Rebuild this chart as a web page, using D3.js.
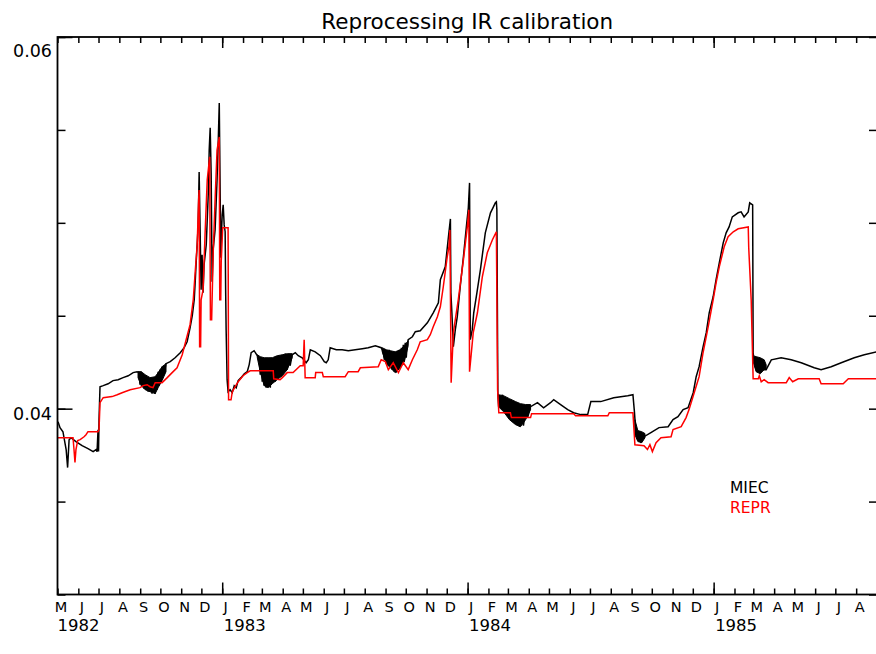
<!DOCTYPE html>
<html>
<head>
<meta charset="utf-8">
<title>Reprocessing IR calibration</title>
<script src="https://cdn.jsdelivr.net/npm/d3@7"></script>
<style>
  body { margin: 0; background: #fff; }
  svg { display: block; }
</style>
</head>
<body>
<div id="chart"></div>
<script>
// MIEC calibration (black), decimal year / value
const miecTime = [
  1982.331, 1982.339, 1982.351, 1982.364, 1982.370, 1982.376, 1982.384, 1982.404, 1982.429, 1982.453,
  1982.474, 1982.486, 1982.490, 1982.494, 1982.496, 1982.498, 1982.502, 1982.515, 1982.535, 1982.555,
  1982.576, 1982.596, 1982.617, 1982.637, 1982.653, 1982.661, 1982.665, 1982.670, 1982.674, 1982.678,
  1982.682, 1982.686, 1982.690, 1982.694, 1982.698, 1982.702, 1982.706, 1982.710, 1982.714, 1982.718,
  1982.727, 1982.731, 1982.735, 1982.739, 1982.743, 1982.747, 1982.751, 1982.755, 1982.763, 1982.771,
  1982.788, 1982.808, 1982.829, 1982.845, 1982.857, 1982.869, 1982.878, 1982.886, 1982.890, 1982.894,
  1982.898, 1982.902, 1982.906, 1982.910, 1982.914, 1982.918, 1982.922, 1982.926, 1982.935, 1982.943,
  1982.947, 1982.951, 1982.955, 1982.959, 1982.963, 1982.971, 1982.979, 1982.984, 1982.988, 1982.992,
  1982.994, 1982.996, 1983.000, 1983.004, 1983.008, 1983.012, 1983.014, 1983.016, 1983.020, 1983.024,
  1983.032, 1983.041, 1983.049, 1983.057, 1983.065, 1983.077, 1983.090, 1983.102, 1983.110, 1983.118,
  1983.130, 1983.143, 1983.151, 1983.155, 1983.159, 1983.163, 1983.167, 1983.171, 1983.175, 1983.179,
  1983.183, 1983.187, 1983.192, 1983.196, 1983.200, 1983.204, 1983.208, 1983.216, 1983.220, 1983.228,
  1983.232, 1983.240, 1983.245, 1983.253, 1983.257, 1983.265, 1983.269, 1983.277, 1983.285, 1983.298,
  1983.310, 1983.326, 1983.342, 1983.351, 1983.359, 1983.379, 1983.400, 1983.416, 1983.424, 1983.432,
  1983.440, 1983.465, 1983.489, 1983.514, 1983.542, 1983.571, 1983.595, 1983.624, 1983.648, 1983.656,
  1983.661, 1983.665, 1983.669, 1983.673, 1983.677, 1983.681, 1983.685, 1983.689, 1983.693, 1983.697,
  1983.701, 1983.705, 1983.709, 1983.714, 1983.718, 1983.722, 1983.726, 1983.730, 1983.734, 1983.738,
  1983.742, 1983.746, 1983.750, 1983.754, 1983.758, 1983.775, 1983.787, 1983.807, 1983.836, 1983.860,
  1983.881, 1983.889, 1983.909, 1983.922, 1983.930, 1983.932, 1983.936, 1983.942, 1983.950, 1983.958,
  1983.970, 1983.983, 1983.995, 1984.003, 1984.008, 1984.011, 1984.019, 1984.025, 1984.038, 1984.052,
  1984.072, 1984.093, 1984.105, 1984.113, 1984.117, 1984.119, 1984.121, 1984.123, 1984.127, 1984.134,
  1984.142, 1984.146, 1984.154, 1984.162, 1984.170, 1984.178, 1984.187, 1984.195, 1984.203, 1984.211,
  1984.219, 1984.227, 1984.236, 1984.244, 1984.256, 1984.284, 1984.309, 1984.337, 1984.350, 1984.378,
  1984.407, 1984.431, 1984.460, 1984.488, 1984.501, 1984.541, 1984.594, 1984.651, 1984.672, 1984.678,
  1984.684, 1984.692, 1984.696, 1984.704, 1984.717, 1984.745, 1984.778, 1984.815, 1984.835, 1984.855,
  1984.876, 1984.896, 1984.917, 1984.929, 1984.941, 1984.957, 1984.970, 1984.982, 1984.998, 1985.010,
  1985.023, 1985.039, 1985.051, 1985.063, 1985.076, 1985.100, 1985.112, 1985.124, 1985.141, 1985.147,
  1985.159, 1985.161, 1985.165, 1985.173, 1985.178, 1985.182, 1985.186, 1985.190, 1985.198, 1985.206,
  1985.214, 1985.235, 1985.275, 1985.316, 1985.357, 1985.410, 1985.438, 1985.479, 1985.520, 1985.573,
  1985.614, 1985.667
];
const miecValue = [
  0.03930, 0.03898, 0.03876, 0.03780, 0.03683, 0.03833, 0.03844, 0.03823, 0.03801, 0.03785,
  0.03769, 0.03780, 0.03769, 0.03887, 0.03769, 0.03941, 0.04118, 0.04124, 0.04134, 0.04151,
  0.04156, 0.04167, 0.04177, 0.04194, 0.04199, 0.04194, 0.04129, 0.04199, 0.04118, 0.04183,
  0.04108, 0.04177, 0.04102, 0.04167, 0.04091, 0.04161, 0.04097, 0.04167, 0.04081, 0.04167,
  0.04081, 0.04177, 0.04102, 0.04199, 0.04124, 0.04210, 0.04145, 0.04226, 0.04183, 0.04242,
  0.04253, 0.04274, 0.04301, 0.04328, 0.04360, 0.04435, 0.04500, 0.04586, 0.04683, 0.04790,
  0.04882, 0.04989, 0.05274, 0.04962, 0.04640, 0.04828, 0.04624, 0.04774, 0.04882, 0.05150,
  0.05392, 0.05511, 0.05258, 0.04683, 0.04855, 0.04962, 0.05231, 0.05446, 0.05645, 0.05124,
  0.04812, 0.04909, 0.05043, 0.05097, 0.04989, 0.04952, 0.04640, 0.04425, 0.04156, 0.04091,
  0.04102, 0.04086, 0.04124, 0.04113, 0.04151, 0.04167, 0.04188, 0.04199, 0.04237, 0.04301,
  0.04312, 0.04285, 0.04263, 0.04183, 0.04274, 0.04145, 0.04263, 0.04124, 0.04253, 0.04113,
  0.04263, 0.04129, 0.04253, 0.04113, 0.04274, 0.04156, 0.04263, 0.04145, 0.04280, 0.04167,
  0.04285, 0.04177, 0.04290, 0.04199, 0.04296, 0.04210, 0.04285, 0.04231, 0.04290, 0.04301,
  0.04285, 0.04274, 0.04247, 0.04263, 0.04317, 0.04306, 0.04285, 0.04253, 0.04247, 0.04263,
  0.04328, 0.04317, 0.04317, 0.04312, 0.04317, 0.04323, 0.04328, 0.04339, 0.04328, 0.04306,
  0.04263, 0.04317, 0.04242, 0.04306, 0.04231, 0.04317, 0.04220, 0.04301, 0.04210, 0.04306,
  0.04199, 0.04290, 0.04194, 0.04306, 0.04210, 0.04317, 0.04220, 0.04328, 0.04237, 0.04344,
  0.04253, 0.04355, 0.04274, 0.04344, 0.04371, 0.04387, 0.04414, 0.04419, 0.04462, 0.04516,
  0.04570, 0.04694, 0.04763, 0.04925, 0.05021, 0.04624, 0.04516, 0.04333, 0.04425, 0.04495,
  0.04656, 0.04817, 0.04978, 0.05081, 0.05215, 0.04371, 0.04425, 0.04516, 0.04624, 0.04747,
  0.04946, 0.05054, 0.05086, 0.05108, 0.05113, 0.05070, 0.04570, 0.04086, 0.04011, 0.04022,
  0.04075, 0.03995, 0.04059, 0.03968, 0.04048, 0.03941, 0.04022, 0.03919, 0.04005, 0.03903,
  0.03984, 0.03909, 0.03995, 0.03952, 0.04011, 0.04032, 0.04005, 0.04032, 0.04048, 0.04022,
  0.03995, 0.03978, 0.03968, 0.03968, 0.04038, 0.04038, 0.04059, 0.04070, 0.04075, 0.03984,
  0.03871, 0.03833, 0.03871, 0.03823, 0.03849, 0.03871, 0.03898, 0.03903, 0.03941, 0.03957,
  0.03995, 0.04005, 0.04086, 0.04172, 0.04226, 0.04333, 0.04409, 0.04516, 0.04602, 0.04694,
  0.04785, 0.04892, 0.04946, 0.04978, 0.05032, 0.05054, 0.05059, 0.05032, 0.05059, 0.05108,
  0.05097, 0.04301, 0.04253, 0.04210, 0.04274, 0.04199, 0.04263, 0.04194, 0.04253, 0.04210,
  0.04210, 0.04263, 0.04274, 0.04263, 0.04247, 0.04220, 0.04210, 0.04226, 0.04247, 0.04274,
  0.04290, 0.04306
];

// MIEC day-to-day scatter band (upper / lower envelope), null = gap
const noiseTime = [
  1982.657, 1982.670, 1982.686, 1982.706, 1982.727, 1982.739, 1982.755, 1982.771, null,
  1983.143, 1983.155, 1983.171, 1983.187, 1983.204, 1983.224, 1983.245, 1983.265, 1983.285, null,
  1983.652, 1983.669, 1983.685, 1983.705, 1983.726, 1983.742, 1983.758, null,
  1984.125, 1984.146, 1984.170, 1984.195, 1984.215, 1984.236, 1984.256, null,
  1984.680, 1984.692, 1984.708, 1984.721, null,
  1985.161, 1985.173, 1985.190, 1985.206, 1985.214
];
const noiseHigh = [
  0.04199, 0.04199, 0.04183, 0.04167, 0.04172, 0.04194, 0.04226, 0.04242, null,
  0.04290, 0.04280, 0.04274, 0.04274, 0.04274, 0.04285, 0.04290, 0.04296, 0.04296, null,
  0.04328, 0.04317, 0.04312, 0.04306, 0.04317, 0.04339, 0.04366, null,
  0.04075, 0.04070, 0.04054, 0.04038, 0.04027, 0.04022, 0.04022, null,
  0.03941, 0.03882, 0.03876, 0.03866, null,
  0.04285, 0.04280, 0.04274, 0.04263, 0.04237
];
const noiseLow = [
  0.04167, 0.04124, 0.04102, 0.04091, 0.04081, 0.04113, 0.04151, 0.04199, null,
  0.04274, 0.04199, 0.04124, 0.04113, 0.04134, 0.04156, 0.04177, 0.04210, 0.04274, null,
  0.04306, 0.04242, 0.04220, 0.04194, 0.04220, 0.04253, 0.04339, null,
  0.04011, 0.03984, 0.03941, 0.03914, 0.03903, 0.03941, 0.03995, null,
  0.03860, 0.03823, 0.03817, 0.03844, null,
  0.04253, 0.04199, 0.04188, 0.04210, 0.04215
];

// REPR calibration (red), decimal year / value
const reprTime = [
  1982.329, 1982.392, 1982.396, 1982.400, 1982.404, 1982.411, 1982.421, 1982.437, 1982.445, 1982.453,
  1982.494, 1982.498, 1982.502, 1982.515, 1982.551, 1982.572, 1982.592, 1982.625, 1982.665, 1982.678,
  1982.694, 1982.706, 1982.718, 1982.727, 1982.755, 1982.776, 1982.796, 1982.816, 1982.837, 1982.853,
  1982.869, 1982.882, 1982.890, 1982.898, 1982.904, 1982.906, 1982.908, 1982.912, 1982.914, 1982.922,
  1982.930, 1982.939, 1982.949, 1982.952, 1982.957, 1982.963, 1982.971, 1982.979, 1982.988, 1982.990,
  1982.994, 1982.996, 1983.002, 1983.024, 1983.026, 1983.036, 1983.041, 1983.053, 1983.065, 1983.085,
  1983.102, 1983.114, 1983.208, 1983.210, 1983.236, 1983.245, 1983.265, 1983.289, 1983.318, 1983.330,
  1983.334, 1983.338, 1983.379, 1983.381, 1983.408, 1983.412, 1983.501, 1983.514, 1983.554, 1983.563,
  1983.636, 1983.648, 1983.665, 1983.677, 1983.697, 1983.718, 1983.738, 1983.758, 1983.775, 1983.795,
  1983.807, 1983.836, 1983.848, 1983.860, 1983.877, 1983.889, 1983.901, 1983.917, 1983.924, 1983.928,
  1983.933, 1983.942, 1983.962, 1983.983, 1983.999, 1984.005, 1984.008, 1984.023, 1984.040, 1984.060,
  1984.080, 1984.101, 1984.117, 1984.122, 1984.127, 1984.174, 1984.178, 1984.256, 1984.260, 1984.431,
  1984.439, 1984.570, 1984.576, 1984.672, 1984.680, 1984.717, 1984.731, 1984.741, 1984.751, 1984.766,
  1984.786, 1984.827, 1984.835, 1984.868, 1984.888, 1984.900, 1984.921, 1984.941, 1984.957, 1984.978,
  1984.998, 1985.010, 1985.023, 1985.043, 1985.059, 1985.080, 1985.100, 1985.141, 1985.143, 1985.153,
  1985.161, 1985.182, 1985.186, 1985.194, 1985.206, 1985.222, 1985.296, 1985.308, 1985.322, 1985.345,
  1985.430, 1985.438, 1985.528, 1985.549, 1985.667
];
const reprValue = [
  0.03844, 0.03844, 0.03780, 0.03710, 0.03780, 0.03828, 0.03833, 0.03849, 0.03860, 0.03876,
  0.03876, 0.03887, 0.04032, 0.04059, 0.04065, 0.04075, 0.04086, 0.04102, 0.04113, 0.04124,
  0.04129, 0.04118, 0.04113, 0.04140, 0.04140, 0.04167, 0.04194, 0.04220, 0.04290, 0.04371,
  0.04452, 0.04586, 0.04737, 0.04882, 0.05124, 0.05177, 0.04333, 0.04333, 0.04586, 0.04640,
  0.04935, 0.05231, 0.05355, 0.04478, 0.04478, 0.04828, 0.05124, 0.05392, 0.05462, 0.04586,
  0.04586, 0.04790, 0.04973, 0.04973, 0.04048, 0.04048, 0.04091, 0.04118, 0.04145, 0.04177,
  0.04194, 0.04204, 0.04204, 0.04161, 0.04156, 0.04167, 0.04194, 0.04194, 0.04231, 0.04231,
  0.04371, 0.04167, 0.04167, 0.04194, 0.04194, 0.04172, 0.04172, 0.04199, 0.04199, 0.04220,
  0.04226, 0.04263, 0.04253, 0.04210, 0.04247, 0.04194, 0.04247, 0.04210, 0.04263, 0.04317,
  0.04360, 0.04371, 0.04398, 0.04441, 0.04495, 0.04548, 0.04656, 0.04817, 0.04871, 0.04962,
  0.04140, 0.04409, 0.04586, 0.04801, 0.04978, 0.05070, 0.04199, 0.04409, 0.04516, 0.04710,
  0.04839, 0.04909, 0.04952, 0.04102, 0.03978, 0.03978, 0.03952, 0.03952, 0.03973, 0.03973,
  0.03962, 0.03962, 0.03978, 0.03978, 0.03806, 0.03801, 0.03780, 0.03806, 0.03769, 0.03817,
  0.03844, 0.03849, 0.03887, 0.03903, 0.03952, 0.03995, 0.04086, 0.04172, 0.04301, 0.04441,
  0.04586, 0.04677, 0.04763, 0.04871, 0.04925, 0.04952, 0.04968, 0.04978, 0.04866, 0.04586,
  0.04161, 0.04161, 0.04177, 0.04145, 0.04156, 0.04140, 0.04140, 0.04167, 0.04145, 0.04161,
  0.04161, 0.04134, 0.04134, 0.04161, 0.04161
];

// axis labels
const monthLetters = ['J', 'F', 'M', 'A', 'M', 'J', 'J', 'A', 'S', 'O', 'N', 'D'];
const yearLabels = [1982, 1983, 1984, 1985];
const yLabelValues = [0.04, 0.06];
const seriesNames = ['MIEC', 'REPR'];
const seriesColors = ['#000000', '#ff0000'];

const width = 876;
const height = 654;
const margin = { top: 37, right: -1, bottom: 59.5, left: 57.5 };
const fontFamily = '"DejaVu Sans", sans-serif';

// decimal year -> Date (UTC)
function decToDate(t) {
  const yr = Math.floor(t);
  const a = Date.UTC(yr, 0, 1);
  const b = Date.UTC(yr + 1, 0, 1);
  return new Date(a + (t - yr) * (b - a));
}

const svg = d3.select('#chart')
  .append('svg')
  .attr('width', width)
  .attr('height', height)
  .attr('viewBox', `0 0 ${width} ${height}`);

svg.append('rect')
  .attr('width', width)
  .attr('height', height)
  .attr('fill', '#fff');

const x = d3.scaleUtc()
  .domain([new Date(Date.UTC(1982, 4, 1)), new Date(Date.UTC(1985, 8, 1))])
  .range([margin.left, width - margin.right]);

const y = d3.scaleLinear()
  .domain([0.03, 0.06])
  .range([height - margin.bottom, margin.top]);

const months = d3.utcMonth.range(x.domain()[0], x.domain()[1]);
const januaries = months.filter(d => d.getUTCMonth() === 0);
const yMinor = d3.range(0.03, 0.0601, 0.005);

// clip for the data lines
svg.append('defs').append('clipPath')
  .attr('id', 'plot-clip')
  .append('rect')
  .attr('x', margin.left)
  .attr('y', margin.top)
  .attr('width', x.range()[1] - x.range()[0])
  .attr('height', y.range()[0] - y.range()[1]);

const plot = svg.append('g').attr('clip-path', 'url(#plot-clip)');

// scatter band of the MIEC series
const band = d3.area()
  .defined(d => d.t !== null)
  .x(d => x(decToDate(d.t)))
  .y0(d => y(d.lo))
  .y1(d => y(d.hi));

plot.append('path')
  .attr('fill', seriesColors[0])
  .attr('stroke', seriesColors[0])
  .attr('stroke-width', 1)
  .attr('d', band(noiseTime.map((t, i) => ({ t, hi: noiseHigh[i], lo: noiseLow[i] }))));

// series lines
const series = [
  { name: seriesNames[0], color: seriesColors[0], time: miecTime, value: miecValue },
  { name: seriesNames[1], color: seriesColors[1], time: reprTime, value: reprValue }
];

const line = d3.line()
  .x(d => x(d[0]))
  .y(d => y(d[1]));

plot.selectAll('.series')
  .data(series)
  .enter()
  .append('path')
  .attr('class', 'series')
  .attr('fill', 'none')
  .attr('stroke', d => d.color)
  .attr('stroke-width', 1.5)
  .attr('stroke-linejoin', 'miter')
  .attr('d', d => line(d.time.map((t, i) => [decToDate(t), d.value[i]])));

// ticks drawn inward on all four sides
function styleAxis(g) {
  g.select('.domain').remove();
  g.selectAll('line').attr('stroke', '#000').attr('stroke-width', 1.5);
  g.selectAll('text').remove();
}

const yBottom = y.range()[0];
const yTop = y.range()[1];
const xLeft = x.range()[0];
const xRight = x.range()[1];

svg.append('g').attr('transform', `translate(0,${yBottom})`)
  .call(d3.axisBottom(x).tickValues(months).tickSize(-6)).call(styleAxis);
svg.append('g').attr('transform', `translate(0,${yBottom})`)
  .call(d3.axisBottom(x).tickValues(januaries).tickSize(-12)).call(styleAxis);
svg.append('g').attr('transform', `translate(0,${yTop})`)
  .call(d3.axisTop(x).tickValues(months).tickSize(-6)).call(styleAxis);
svg.append('g').attr('transform', `translate(0,${yTop})`)
  .call(d3.axisTop(x).tickValues(januaries).tickSize(-11)).call(styleAxis);

svg.append('g').attr('transform', `translate(${xLeft},0)`)
  .call(d3.axisLeft(y).tickValues(yMinor).tickSize(-8)).call(styleAxis);
svg.append('g').attr('transform', `translate(${xLeft},0)`)
  .call(d3.axisLeft(y).tickValues(yLabelValues).tickSize(-15)).call(styleAxis);
svg.append('g').attr('transform', `translate(${xRight},0)`)
  .call(d3.axisRight(y).tickValues(yMinor).tickSize(-8)).call(styleAxis);

// frame
svg.append('rect')
  .attr('x', xLeft)
  .attr('y', yTop)
  .attr('width', xRight - xLeft)
  .attr('height', yBottom - yTop)
  .attr('fill', 'none')
  .attr('stroke', '#000')
  .attr('stroke-width', 1.8);

// month letters
svg.append('g')
  .selectAll('text')
  .data(months)
  .enter()
  .append('text')
  .attr('x', d => x(d) + 3.5)
  .attr('y', yBottom + 17.5)
  .attr('text-anchor', 'middle')
  .style('font-family', fontFamily)
  .style('font-size', '14.5px')
  .style('fill', '#000')
  .text(d => monthLetters[d.getUTCMonth()]);

// year labels
svg.append('g')
  .selectAll('text')
  .data(yearLabels)
  .enter()
  .append('text')
  .attr('x', d => Math.max(xLeft, x(new Date(Date.UTC(d, 0, 1)))) + (d === 1982 ? 0 : 1.5))
  .attr('y', yBottom + 36.5)
  .style('font-family', fontFamily)
  .style('font-size', '16.5px')
  .style('fill', '#000')
  .text(d => d);

// y labels
svg.append('g')
  .selectAll('text')
  .data(yLabelValues)
  .enter()
  .append('text')
  .attr('x', xLeft - 5.5)
  .attr('y', d => Math.max(y(d) + 11, yTop + 20))
  .attr('text-anchor', 'end')
  .style('font-family', fontFamily)
  .style('font-size', '17.5px')
  .style('fill', '#000')
  .text(d => d.toFixed(2));

// legend
svg.append('g')
  .selectAll('text')
  .data(series)
  .enter()
  .append('text')
  .attr('x', 730)
  .attr('y', (d, i) => 493 + i * 19.5)
  .style('font-family', fontFamily)
  .style('font-size', '15.5px')
  .style('fill', d => d.color)
  .text(d => d.name);

// title
svg.append('text')
  .attr('x', (xLeft + xRight) / 2)
  .attr('y', 28.5)
  .attr('text-anchor', 'middle')
  .style('font-family', fontFamily)
  .style('font-size', '21.5px')
  .style('fill', '#000')
  .text('Reprocessing IR calibration');
</script>
</body>
</html>
